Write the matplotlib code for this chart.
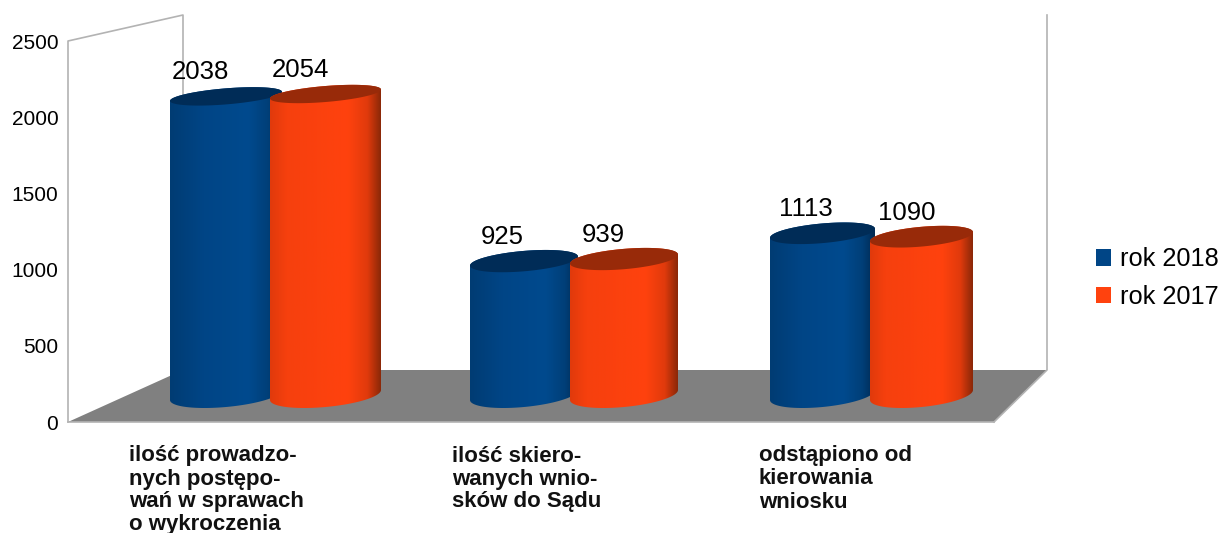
import numpy as np
import matplotlib
matplotlib.use("Agg")
import matplotlib.pyplot as plt
from matplotlib.colors import LinearSegmentedColormap
from matplotlib.patches import Patch, PathPatch, Polygon
from matplotlib.path import Path

plt.rcParams['font.family'] = ['Liberation Sans', 'DejaVu Sans']

series_names = ['rok 2018', 'rok 2017']
values_2018 = [2038, 925, 1113]
values_2017 = [2054, 939, 1090]
value_ticks = [0, 500, 1000, 1500, 2000, 2500]
category_lines = [
    ['ilość prowadzo-', 'nych postępo-', 'wań w sprawach', 'o wykroczenia'],
    ['ilość skiero-', 'wanych wnio-', 'sków do Sądu'],
    ['odstąpiono od', 'kierowania', 'wniosku'],
]

W, H = 1223, 533
PX_PER_UNIT = 0.148
BASE_Y = 398

blue_cmap = LinearSegmentedColormap.from_list('b', [(0, '#003c73'), (0.3, '#004586'), (0.7, '#004a8e'), (0.88, '#003f78'), (1, '#002a52')])
red_cmap = LinearSegmentedColormap.from_list('r', [(0, '#e03a0c'), (0.15, '#f6400e'), (0.7, '#ff420e'), (0.88, '#e03a0c'), (1, '#8a2808')])


def val_offset(px):
    return px / PX_PER_UNIT


def ellipse(cx, cy, a, b, s, t):
    # cy is in value units, b and s in pixels, s lifts the right side
    return cx + a * np.cos(t), cy + val_offset(b) * np.sin(t) + val_offset(s) * np.cos(t)


def cylinder(ax, left, right, value, cmap, top_color, label_shift):
    cx = (left + right) / 2
    a = (right - left) / 2
    b_top = 12 - 4 * value / 2054
    s_top = 4.5
    b_bot = 12
    s_bot = 5

    # body outline: lower half of base, upper half of top
    t_low = np.linspace(np.pi, 2 * np.pi, 60)
    t_up = np.linspace(0, np.pi, 60)
    xb, yb = ellipse(cx, val_offset(3), a, b_bot, s_bot, t_low)
    xt, yt = ellipse(cx, value, a, b_top, s_top, t_up)
    verts = np.column_stack([np.r_[xb, xt], np.r_[yb, yt]])
    clip = PathPatch(Path(np.vstack([verts, verts[0]]), closed=True), fc='none', ec='none', transform=ax.transData)
    ax.add_patch(clip)
    grad = np.linspace(0, 1, 256).reshape(1, -1)
    im = ax.imshow(grad, cmap=cmap, aspect='auto', extent=(left, right, val_offset(-20), value + val_offset(20)), zorder=2)
    im.set_clip_path(clip)

    t = np.linspace(0, 2 * np.pi, 120)
    xe, ye = ellipse(cx, value, a, b_top, s_top, t)
    ax.add_patch(Polygon(np.column_stack([xe, ye]), closed=True, fc=top_color, ec='none', zorder=2))
    ax.text(cx - label_shift, value + val_offset(24), str(value), ha='center', va='center', fontsize=18.5, color='black', zorder=5)


fig = plt.figure(figsize=(W / 100, H / 100), dpi=100)

# walls and floor, in pixels
deco = fig.add_axes([0, 0, 1, 1])
deco.set_xlim(0, W)
deco.set_ylim(H, 0)
deco.axis('off')
deco.add_patch(Polygon([(68, 422), (994, 422), (1047, 370), (183, 370)], closed=True, fc='#808080', ec='none'))
wall = '#b3b3b3'
deco.plot([68, 994], [422, 422], color=wall, lw=1.2)
deco.plot([68, 68, 183, 183], [422, 41, 15, 370], color=wall, lw=1.2)
deco.plot([1047, 1047, 994], [15, 370, 422], color=wall, lw=1.2)

# value axis of the front wall
ax_ticks = fig.add_axes([68 / W, 1 - 422 / H, 0.0001, (422 - 41) / H])
ax_ticks.set_ylim(0, 2500)
ax_ticks.set_yticks(value_ticks)
ax_ticks.set_xticks([])
ax_ticks.tick_params(axis='y', length=0, pad=7, labelsize=15)
for side in ax_ticks.spines.values():
    side.set_visible(False)
ax_ticks.patch.set_alpha(0)

# cylinders: x in pixels, y in values
ax = fig.add_axes([0, 0, 1, 1], facecolor='none')
ax.axis('off')
positions = [(170, 282, 270, 381), (470, 578, 570, 678), (770, 875, 870, 973)]
label_shifts = [(26, 25), (22, 21), (17, 15)]
for i, pos in enumerate(positions):
    cylinder(ax, pos[0], pos[1], values_2018[i], blue_cmap, '#002c57', label_shifts[i][0])
    cylinder(ax, pos[2], pos[3], values_2017[i], red_cmap, '#982a09', label_shifts[i][1])
ax.set_xlim(0, W)
ax.set_ylim((BASE_Y - H) / PX_PER_UNIT, BASE_Y / PX_PER_UNIT)

# category labels
label_x = [129, 452, 759]
line_y = [456, 479, 502, 524.5]
for x, lines in zip(label_x, category_lines):
    for k, line in enumerate(lines):
        deco.text(x, line_y[k], line, ha='left', va='center', fontsize=16, fontweight='bold', color='#111111')

handles = [Patch(facecolor='#004586', edgecolor='none'), Patch(facecolor='#ff420e', edgecolor='none')]
fig.legend(handles, series_names, loc='center left', bbox_to_anchor=(1096 / W, 1 - 278 / H),
           frameon=False, fontsize=18.3, borderpad=0, borderaxespad=0, handlelength=0.6,
           handleheight=0.6, handletextpad=0.36, labelspacing=0.52)

plt.savefig('out.png', dpi=100)
